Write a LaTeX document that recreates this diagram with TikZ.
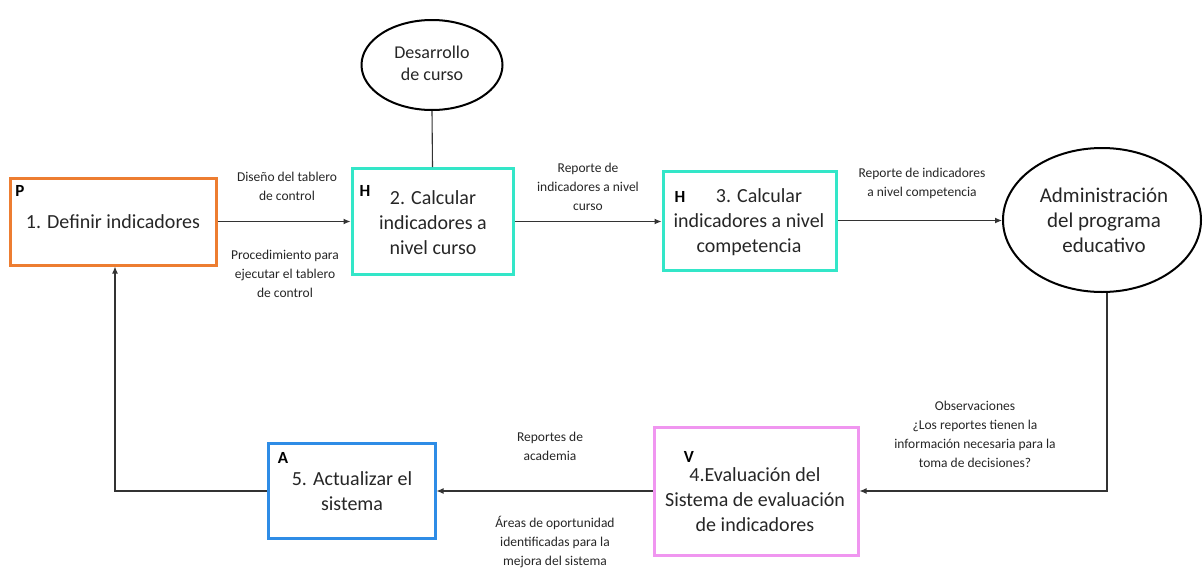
\documentclass[tikz,border=0pt]{standalone}
\usepackage{fontspec}
\setmainfont{Carlito}
\usetikzlibrary{arrows.meta,shapes.geometric}
\definecolor{orangeP}{RGB}{237,125,49}
\definecolor{tealH}{RGB}{51,230,200}
\definecolor{blueA}{RGB}{46,140,230}
\definecolor{pinkV}{RGB}{240,150,240}
\tikzset{
  proc/.style={draw,line width=3pt,inner sep=0pt},
  big/.style={font=\fontsize{20}{25}\selectfont,align=center,inner sep=0pt,text=black!85},
  lab/.style={font=\fontsize{13.5}{19}\selectfont,align=center,inner sep=0pt,text=black!85},
  tag/.style={font=\bfseries\fontsize{17}{18}\selectfont,inner sep=0pt},
  conn/.style={draw,line width=1.1pt,black!80},
  arr/.style={conn,-{Latex[length=7pt,width=6pt]}},
  oval/.style={draw,ellipse,line width=2pt,inner sep=0pt}
}
\begin{document}
\begin{tikzpicture}[x=1pt,y=-1pt]
\useasboundingbox (0,0) rectangle (1203,568);
% boxes
\node[proc,draw=orangeP,minimum width=206pt,minimum height=87pt] (b1) at (113,221.5) {};
\node[proc,draw=tealH,minimum width=161pt,minimum height=106pt] (b2) at (432.5,221.5) {};
\node[proc,draw=tealH,minimum width=173pt,minimum height=99pt] (b3) at (749.5,220.5) {};
\node[proc,draw=pinkV,minimum width=204pt,minimum height=128pt] (b4) at (756,491) {};
\node[proc,draw=blueA,minimum width=167pt,minimum height=95pt] (b5) at (351.5,490.5) {};
\node[oval,minimum width=141pt,minimum height=90pt] (e1) at (432,65) {};
\node[oval,minimum width=198pt,minimum height=144pt] (e2) at (1102,220) {};
% texts
\node[big] (t1) at (113,222) {1. Definir indicadores};
\node[big] (t2) at (433,223) {2. Calcular\\indicadores a\\nivel curso};
\node[big] (t3) at (749,222) {\hspace*{20pt}3. Calcular\\indicadores a nivel\\competencia};
\node[big] (t4) at (755,500) {4.Evaluación del\\Sistema de evaluación\\de indicadores};
\node[big] (t5) at (352,491.5) {5. Actualizar el\\sistema};
\node[big,font=\fontsize{18}{22}\selectfont] (te1) at (432,63) {Desarrollo\\de curso};
\node[big,font=\fontsize{21}{25}\selectfont] (te2) at (1104,220) {Administración\\del programa\\educativo};
% tags
\node[tag] (p) at (20,191) {P};
\node[tag] (h1) at (365,191) {H};
\node[tag] (h2) at (680,197) {H};
\node[tag] (v) at (689,457) {V};
\node[tag] (a) at (283,458) {A};
% coordinates
\coordinate (c1) at (1107,491);
\coordinate (c2) at (115,491);
% connectors
\draw[conn] (e1.south) -- (b2.north);
\draw[arr] (b1.east) -- (b2.west |- b1.east);
\draw[arr] (b2.east) -- (b3.west |- b2.east);
\draw[arr] (b3.east) -- (e2.west |- b3.east);
\draw[arr] (e2.south -| c1) -- (c1) -- (b4.east);
\draw[arr] (b4.west) -- (b5.east |- b4.west);
\draw[arr] (b5.west |- c2) -- (c2) -- (c2 |- b1.south);
% labels
\node[lab] (l1) at (287,186) {Diseño del tablero\\de control};
\node[lab] (l2) at (285,274) {Procedimiento para\\ejecutar el tablero\\de control};
\node[lab] (l3) at (588,187) {Reporte de\\indicadores a nivel\\curso};
\node[lab] (l4) at (922,183) {Reporte de indicadores\\a nivel competencia};
\node[lab] (l5) at (975,434) {Observaciones\\¿Los reportes tienen la\\información necesaria para la\\toma de decisiones?};
\node[lab] (l6) at (550,446) {Reportes de\\academia};
\node[lab] (l7) at (555,542) {Áreas de oportunidad\\identificadas para la\\mejora del sistema};
\end{tikzpicture}
\end{document}
